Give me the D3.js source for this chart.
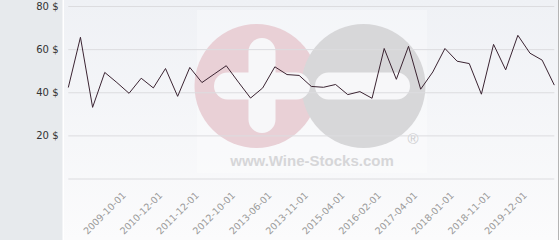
<!DOCTYPE html>
<html>
<head>
<meta charset="utf-8">
<script src="https://cdn.jsdelivr.net/npm/d3@7"></script>
<style>
html,body{margin:0;padding:0;background:#fff;}
svg{display:block;}
</style>
</head>
<body>
<svg id="chart" width="560" height="240"></svg>
<script>
// ---- data ----
const prices = [42.2, 65.5, 33.0, 49.2, 44.5, 39.5, 46.5, 42.0, 51.0, 38.1,
                51.5, 44.5, 48.4, 52.3, 44.7, 37.3, 42.0, 51.8, 48.2, 47.8,
                42.7, 42.3, 43.6, 38.9, 40.3, 37.2, 60.3, 46.0, 61.3, 41.4,
                49.4, 60.3, 54.4, 53.3, 39.1, 62.2, 50.4, 66.4, 58.1, 54.9, 43.3];
const tickLabels = ["2009-10-01","2010-12-01","2011-12-01","2012-10-01","2013-06-01",
                    "2013-11-01","2015-04-01","2016-02-01","2017-04-01","2018-01-01",
                    "2018-11-01","2019-12-01"];
const tickFirstIndex = 5, tickStep = 3;
const yTicks = [0, 20, 40, 60, 80];

(function () {
const svg = d3.select("#chart");
const W = 560, H = 240;
const pLeft = 68.3, pRight = 554.3, pTop = 6, pBottom = 178.5;

// backgrounds
const defs = svg.append("defs");
const grad = defs.append("linearGradient").attr("id","bg").attr("x1",0).attr("x2",0).attr("y1",0).attr("y2",1);
grad.append("stop").attr("offset","0%").attr("stop-color","#eff1f5");
grad.append("stop").attr("offset","100%").attr("stop-color","#fbfbfc");
svg.append("rect").attr("x",0).attr("y",0).attr("width",W).attr("height",H).attr("fill","#ffffff");
svg.append("rect").attr("x",64).attr("y",0).attr("width",494.5).attr("height",H).attr("fill","url(#bg)");
svg.append("rect").attr("x",0).attr("y",0).attr("width",62.5).attr("height",H).attr("fill","#e7eaed");
svg.append("line").attr("x1",558.5).attr("x2",558.5).attr("y1",0).attr("y2",H).attr("stroke","#b4b4b4").attr("stroke-width",1);

// watermark
const wm = svg.append("g");
wm.append("rect").attr("x",197).attr("y",10).attr("width",230).attr("height",163).attr("fill","#ffffff").attr("opacity",0.3);
wm.append("circle").attr("cx",256.5).attr("cy",86).attr("r",62).attr("fill","#e9d0d6");
wm.append("circle").attr("cx",363.5).attr("cy",86).attr("r",62).attr("fill","#d7d7d9");
wm.append("rect").attr("x",248.5).attr("y",38).attr("width",27).attr("height",95).attr("rx",13.5).attr("fill","#f7f7f9");
wm.append("rect").attr("x",214).attr("y",72.5).attr("width",96).attr("height",27).attr("rx",13.5).attr("fill","#f7f7f9");
wm.append("rect").attr("x",315).attr("y",72.5).attr("width",95).attr("height",27).attr("rx",13.5).attr("fill","#f7f7f9");
wm.append("text").attr("x",413).attr("y",144).attr("text-anchor","middle")
  .attr("font-family","Liberation Sans, Arial, sans-serif").attr("font-size",15).attr("fill","#cdcdcf").text("®");
wm.append("text").attr("x",312).attr("y",166).attr("text-anchor","middle")
  .attr("font-family","Liberation Sans, Arial, sans-serif").attr("font-weight","bold").attr("font-size",15)
  .attr("fill","#d6d6d8").text("www.Wine-Stocks.com");

// scales
const x = d3.scalePoint().domain(d3.range(prices.length)).range([pLeft, pRight]);
const y = d3.scaleLinear().domain([0, 80]).range([pBottom, pTop]);

// gridlines
const grid = d3.axisLeft(y).tickValues(yTicks).tickSize(-(pRight - pLeft)).tickFormat("");
const gg = svg.append("g").attr("transform", `translate(${pLeft},0)`).call(grid);
gg.select(".domain").remove();
gg.selectAll("line").attr("stroke","#dcdcdf").attr("stroke-width",1);

// y labels
const yAxis = d3.axisLeft(y).tickValues(yTicks).tickSize(0).tickPadding(0)
  .tickFormat(d => d === 0 ? "" : d + " $");
const gy = svg.append("g").attr("transform", `translate(58.5,0)`).call(yAxis);
gy.select(".domain").remove();
gy.selectAll("text").attr("font-family","DejaVu Sans, sans-serif").attr("font-size",10).attr("fill","#333");

// x axis labels
const tickIdx = tickLabels.map((_, i) => tickFirstIndex + i * tickStep);
const xAxis = d3.axisBottom(x).tickValues(tickIdx).tickSize(0)
  .tickFormat(d => tickLabels[(d - tickFirstIndex) / tickStep]);
const gx = svg.append("g").attr("transform", `translate(0,${pBottom})`).call(xAxis);
gx.select(".domain").remove();
gx.selectAll("text")
  .attr("font-family","DejaVu Sans, sans-serif").attr("font-size",9.5).attr("fill","#9a9a9a")
  .attr("text-anchor","end").attr("dy",null).attr("y",0)
  .attr("transform","translate(-3,17.5) rotate(-45)");

// line
const line = d3.line().x((d, i) => x(i)).y(d => y(d));
svg.append("path").datum(prices).attr("d", line)
  .attr("fill","none").attr("stroke","#3b2432").attr("stroke-width",1).attr("stroke-linejoin","miter");
})();
</script>
</body>
</html>
